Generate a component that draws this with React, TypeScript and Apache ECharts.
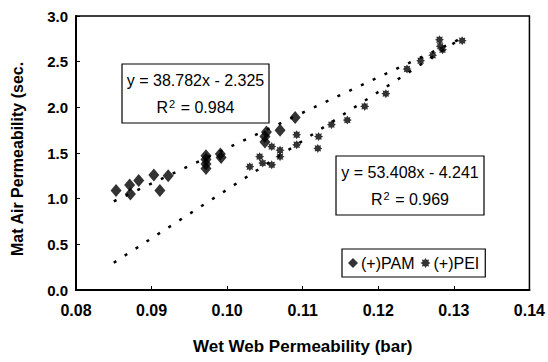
import React, { useEffect, useRef } from "react";
import * as echarts from "echarts";

const xTicks = [0.08, 0.09, 0.1, 0.11, 0.12, 0.13, 0.14];
const yTicks = [0, 0.5, 1.0, 1.5, 2.0, 2.5, 3.0];

const pamX = [0.0853, 0.0871, 0.0872, 0.0883, 0.0903, 0.0911, 0.0922, 0.0972, 0.0972, 0.0972, 0.0972, 0.0992, 0.0991, 0.105, 0.105, 0.1052, 0.107, 0.109];
const pamY = [1.09, 1.15, 1.05, 1.2, 1.26, 1.09, 1.25, 1.33, 1.38, 1.43, 1.47, 1.45, 1.49, 1.62, 1.68, 1.73, 1.75, 1.89];

const peiX = [0.103, 0.1043, 0.1047, 0.1059, 0.1059, 0.107, 0.107, 0.1092, 0.1092, 0.112, 0.1121, 0.1138, 0.1159, 0.1182, 0.121, 0.1238, 0.1256, 0.1272, 0.1281, 0.1282, 0.1285, 0.1311];
const peiY = [1.35, 1.46, 1.39, 1.37, 1.57, 1.53, 1.46, 1.59, 1.7, 1.55, 1.68, 1.81, 1.86, 2.01, 2.15, 2.42, 2.51, 2.57, 2.74, 2.67, 2.63, 2.73];

const pamFit = { slope: 38.782, intercept: -2.325, r2: 0.984 };
const peiFit = { slope: 53.408, intercept: -4.241, r2: 0.969 };
const fitRange = [0.085, 0.131];

const seriesNames = ["(+)PAM", "(+)PEI"];

function rosette(): string {
  const pts: string[] = [];
  const n = 8;
  for (let i = 0; i < n * 2; i++) {
    const r = i % 2 === 0 ? 5 : 3.2;
    const a = (Math.PI * i) / n;
    pts.push(`${(i === 0 ? "M" : "L")}${(r * Math.cos(a)).toFixed(2)},${(r * Math.sin(a)).toFixed(2)}`);
  }
  return "path://" + pts.join(" ") + " Z";
}

function fitLine(f: { slope: number; intercept: number }) {
  return fitRange.map((x) => [x, f.slope * x + f.intercept]);
}

function eqText(f: { slope: number; intercept: number }) {
  const sign = f.intercept < 0 ? "-" : "+";
  return `y = ${f.slope.toFixed(3)}x ${sign} ${Math.abs(f.intercept).toFixed(3)}`;
}

export default function App() {
  const ref = useRef<HTMLDivElement>(null);
  useEffect(() => {
    document.body.style.margin = "0";
    if (!ref.current) return;
    const chart = echarts.init(ref.current, undefined, { renderer: "svg" });
    const font = "'Liberation Sans', Arial, sans-serif";
    const peiSymbol = rosette();
    const eqBox = (x: number, y: number, w: number, h: number, f: any) => ({
      type: "group",
      children: [
        { type: "rect", shape: { x, y, width: w, height: h }, style: { fill: "#fff", stroke: "#000", lineWidth: 1.2 }, z: 10 },
        { type: "text", x: x + w / 2, y: y + 16, z: 11, style: { text: eqText(f), fontSize: 16, fontFamily: font, fill: "#000", align: "center", verticalAlign: "middle" } },
        {
          type: "text",
          x: x + w / 2,
          y: y + 43,
          z: 11,
          style: {
            text: `R{sup|2} = ${f.r2.toFixed(3)}`,
            fontSize: 16,
            fontFamily: font,
            fill: "#000",
            align: "center",
            verticalAlign: "middle",
            rich: {
              sup: { fontSize: 11, fontFamily: font, fill: "#000", verticalAlign: "top", lineHeight: 18, padding: [0, 1, 0, 1] },
            },
          },
        },
      ],
    });
    chart.setOption({
      animation: false,
      backgroundColor: "#fff",
      grid: { left: 76, right: 18, top: 16, bottom: 72, show: true, borderColor: "#000", borderWidth: 1.5 },
      legend: {
        left: 342,
        top: 249,
        orient: "horizontal",
        data: [
          { name: seriesNames[0], icon: "diamond" },
          { name: seriesNames[1], icon: peiSymbol },
        ],
        itemWidth: 10,
        itemHeight: 10,
        itemGap: 6,
        padding: [6, 6, 6, 6],
        borderColor: "#000",
        borderWidth: 1.2,
        backgroundColor: "#fff",
        textStyle: { fontSize: 16, fontFamily: font, color: "#000", padding: [0, 0, 0, -2] },
      },
      xAxis: {
        type: "value",
        min: 0.08,
        max: 0.14,
        interval: 0.01,
        name: "Wet Web Permeability (bar)",
        nameLocation: "middle",
        nameGap: 48,
        nameTextStyle: { fontSize: 17, fontWeight: "bold", fontFamily: font, color: "#000" },
        axisLine: { lineStyle: { color: "#000", width: 2 } },
        axisTick: { inside: true, length: 4, lineStyle: { color: "#000" } },
        splitLine: { show: false },
        axisLabel: {
          fontSize: 16,
          fontWeight: "bold",
          fontFamily: font,
          color: "#000",
          margin: 12,
          formatter: (v: number) => v.toFixed(2),
          customValues: xTicks,
        },
      },
      yAxis: {
        type: "value",
        min: 0,
        max: 3,
        interval: 0.5,
        axisLine: { show: true, lineStyle: { color: "#000", width: 2 } },
        axisTick: { show: true, inside: true, length: 4, lineStyle: { color: "#000" } },
        splitLine: { show: false },
        axisLabel: {
          fontSize: 15,
          fontWeight: "bold",
          fontFamily: font,
          color: "#000",
          margin: 8,
          formatter: (v: number) => v.toFixed(1),
          customValues: yTicks,
        },
      },
      series: [
        {
          name: seriesNames[0],
          type: "scatter",
          symbol: "diamond",
          symbolSize: [11, 13],
          itemStyle: { color: "#000" },
          data: pamX.map((x, i) => [x, pamY[i]]),
          z: 5,
        },
        {
          name: seriesNames[1],
          type: "scatter",
          symbol: peiSymbol,
          symbolSize: 9,
          itemStyle: { color: "#000" },
          data: peiX.map((x, i) => [x, peiY[i]]),
          z: 5,
        },
        {
          name: "pamFit",
          type: "line",
          data: fitLine(pamFit),
          symbol: "none",
          lineStyle: { color: "#000", width: 2.5, type: [3, 10] },
          z: 3,
        },
        {
          name: "peiFit",
          type: "line",
          data: fitLine(peiFit),
          symbol: "none",
          lineStyle: { color: "#000", width: 2.5, type: [3, 10] },
          z: 3,
        },
      ],
      graphic: [
        eqBox(122, 64, 147, 59, pamFit),
        eqBox(336, 156, 148, 59, peiFit),
        {
          type: "text",
          x: 17,
          y: 256,
          rotation: Math.PI / 2,
          style: {
            text: "Mat Air Permeability (sec.",
            fontSize: 16,
            fontWeight: "bold",
            fontFamily: font,
            fill: "#000",
            align: "left",
            verticalAlign: "middle",
          },
        },
      ],
    });
    return () => chart.dispose();
  }, []);
  return <div ref={ref} style={{ width: 548, height: 362 }} />;
}
